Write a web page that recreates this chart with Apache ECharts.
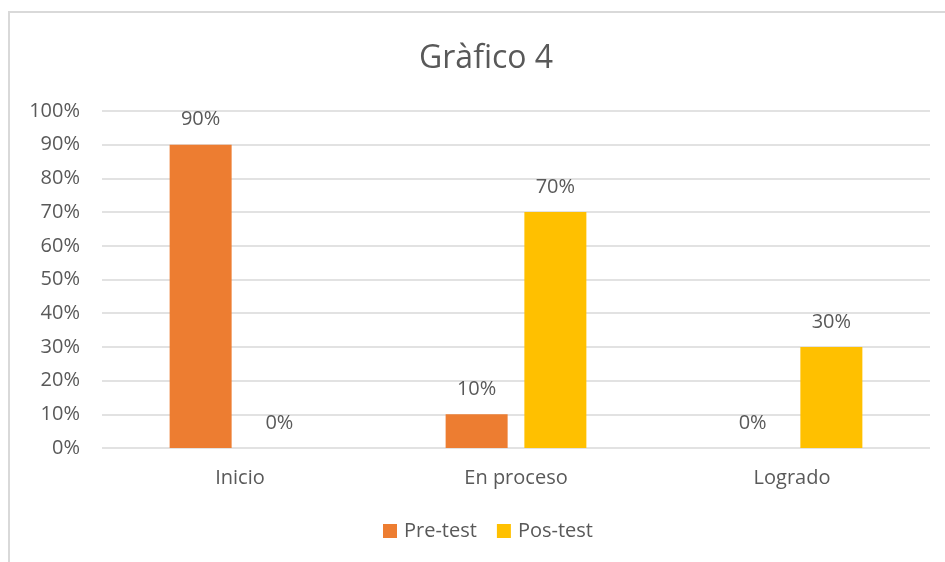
<!DOCTYPE html>
<html lang="es">
<head>
    <meta charset="UTF-8">
    <title>Gràfico 4</title>
    <script src="https://cdn.jsdelivr.net/npm/echarts@6/dist/echarts.min.js"></script>
    <style>
        body { margin: 0; background: #fff; }
    </style>
</head>
<body>
    <div id="chart" style="width: 945px; height: 562px;"></div>
    <script>
        // datos del gráfico
        const categorias = ['Inicio', 'En proceso', 'Logrado'];
        const preTest = [90, 10, 0];
        const posTest = [0, 70, 30];
        const nombres = ['Pre-test', 'Pos-test'];

        const fuente = 'Open Sans';
        const gris = '#595959';

        const myChart = echarts.init(document.getElementById('chart'));

        let etiqueta = {
            show: true,
            position: 'top',
            distance: 15,
            formatter: p => p.value + '%',
            color: gris,
            fontFamily: fuente,
            fontSize: 20
        };

        let option = {
            backgroundColor: '#fff',
            animation: false,
            graphic: [{
                type: 'rect',
                shape: { x: 9, y: 12, width: 980, height: 620 },
                style: { fill: 'none', stroke: '#d9d9d9', lineWidth: 2 },
                silent: true
            }],
            // el marco original está recortado, por eso el título no va centrado en la ventana
            title: {
                text: 'Gràfico 4',
                left: 414,
                top: 38,
                textStyle: { color: gris, fontFamily: fuente, fontSize: 32, fontWeight: 'normal' }
            },
            legend: {
                data: nombres,
                bottom: 16,
                left: 378,
                itemWidth: 14,
                itemHeight: 14,
                itemGap: 20,
                icon: 'rect',
                textStyle: { color: gris, fontFamily: fuente, fontSize: 20, padding: [0, 0, 0, 2] }
            },
            grid: {
                left: 102,
                right: 15,
                top: 111,
                bottom: 114,
                containLabel: false
            },
            xAxis: {
                type: 'category',
                data: categorias,
                axisLine: { show: false },
                axisTick: { show: false },
                axisLabel: { color: gris, fontFamily: fuente, fontSize: 20, margin: 20 }
            },
            yAxis: {
                type: 'value',
                min: 0,
                max: 100,
                interval: 10,
                axisLine: { show: false },
                axisTick: { show: false },
                axisLabel: { color: gris, fontFamily: fuente, fontSize: 20, margin: 22, formatter: '{value}%' },
                splitLine: { lineStyle: { color: '#d9d9d9', width: 1.5 } }
            },
            series: [{
                name: nombres[0],
                type: 'bar',
                data: preTest,
                barWidth: 62,
                barGap: '27%',
                itemStyle: { color: '#ed7d31' },
                label: etiqueta
            }, {
                name: nombres[1],
                type: 'bar',
                data: posTest,
                barWidth: 62,
                barGap: '27%',
                itemStyle: { color: '#ffc000' },
                label: etiqueta
            }]
        };

        myChart.setOption(option);
    </script>
</body>
</html>
